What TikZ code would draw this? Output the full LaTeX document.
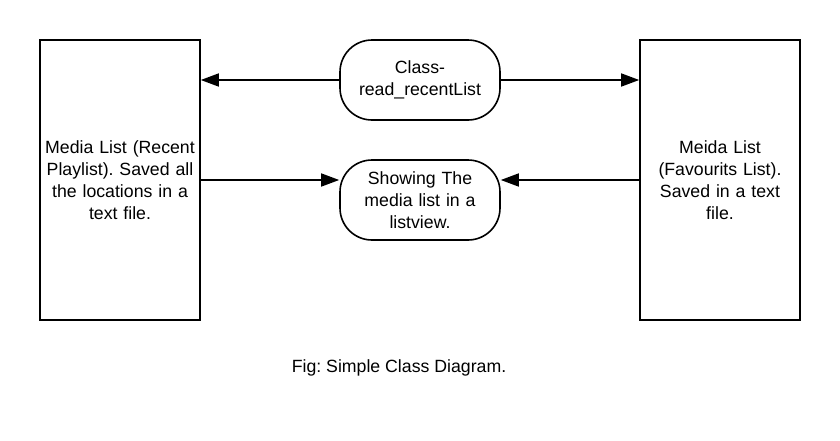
\documentclass[tikz,border=0pt]{standalone}
\usepackage{fontspec}
\setmainfont{Liberation Sans}
\usetikzlibrary{arrows.meta}
\frenchspacing
\begin{document}
\begin{tikzpicture}[x=1pt,y=-1pt,
  box/.style={draw,line width=1.6pt,minimum width=160pt,minimum height=280pt,inner sep=0pt,align=center,text width=158pt,font=\fontsize{17.7}{22}\selectfont},
  pill/.style={draw,line width=1.6pt,rounded corners=32pt,minimum width=160pt,minimum height=80pt,inner sep=0pt,align=center,text width=158pt,font=\fontsize{17.7}{22}\selectfont},
  conn/.style={line width=1.6pt,-{Triangle[length=18pt,width=13pt]}}]
\useasboundingbox[fill=white] (0,0) rectangle (840,440);
\node[box] (L) at (120,180) {Media List (Recent\\Playlist). Saved all\\the locations in a\\text file.};
\node[box] (R) at (720,180) {Meida List\\(Favourits List).\\Saved in a text\\file.};
\node[pill] (T) at (420,80) {Class-\\read\_recentList};
\node[pill] (M) at (420,200) {Showing The\\media list in a\\listview.};
\draw[conn] (T.west) -- (L.east |- T.west);
\draw[conn] (T.east) -- (R.west |- T.east);
\draw[conn] (L.east |- 0,180) -- (M.west |- 0,180);
\draw[conn] (R.west |- 0,180) -- (M.east |- 0,180);
\node[font=\fontsize{17.7}{22}\selectfont] (cap) at (399,368) {Fig: Simple Class Diagram.};
\end{tikzpicture}
\end{document}
